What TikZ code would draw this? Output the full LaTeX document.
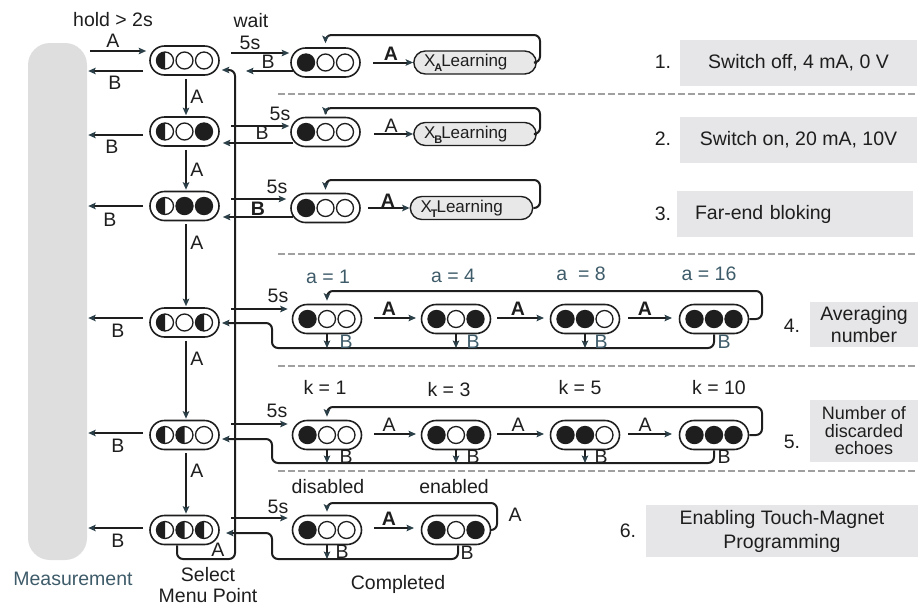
\documentclass[tikz,border=0pt]{standalone}
\usepackage{fontspec}
\setmainfont{Liberation Sans}
\usetikzlibrary{shapes.misc,arrows.meta}
\definecolor{bargray}{HTML}{DEDEDE}
\definecolor{boxgray}{HTML}{E6E6E8}
\definecolor{lgray}{HTML}{E8E8E8}
\definecolor{slate}{HTML}{3E5B69}
\definecolor{ink}{HTML}{1E1E1E}
\definecolor{dashgray}{HTML}{A0A0A0}
\definecolor{tipc}{HTML}{2B3F48}
\tikzset{
 lightnode/.style={rounded rectangle, draw=ink, line width=1.6pt, minimum width=69pt, minimum height=29pt, inner sep=0pt},
 learnbox/.style={rounded rectangle, draw=ink, line width=1.4pt, fill=lgray, minimum height=23pt, text width=102pt, inner xsep=7pt, inner ysep=0pt, align=left, font=\fontsize{17}{18}\selectfont, text=ink},
 infobox/.style={fill=boxgray},
 txt/.style={font=\fontsize{19.5}{22}\selectfont, text=ink, inner sep=0pt},
 btxt/.style={txt, font=\fontsize{19.5}{22}\selectfont\bfseries},
 stxt/.style={txt, text=slate},
 conn/.style={draw=ink, line width=2pt},
 arr/.style={conn, -{Stealth[length=7.5pt,width=6.5pt,inset=1.5pt,color=tipc]}},
 loopline/.style={arr, rounded corners=6pt},
 sepline/.style={draw=dashgray, line width=2.5pt, dash pattern=on 7pt off 3pt},
}
\newcommand\lampF[1]{\fill[ink] #1 circle[radius=9.2pt];}
\newcommand\lampE[1]{\draw[ink, line width=1.3pt, fill=white] #1 circle[radius=8.5pt];}
\newcommand\lampH[1]{\draw[ink, line width=1.3pt, fill=white] #1 circle[radius=8.5pt];\fill[ink] #1 ++(0pt,8.5pt) arc[start angle=90,end angle=270,radius=8.5pt] -- cycle;}
\newcommand\lamps[4]{\csname lamp#2\endcsname{([xshift=-19.5pt]#1.center)}\csname lamp#3\endcsname{(#1.center)}\csname lamp#4\endcsname{([xshift=19.5pt]#1.center)}}
\newcommand\subx[1]{\kern-1pt\smash{\raisebox{-5pt}{\fontsize{11}{11}\selectfont\bfseries #1}}\kern-1pt}
\begin{document}
\begin{tikzpicture}[x=1pt,y=-1pt]
\useasboundingbox (0,0) rectangle (918,606);

% separators
\draw[sepline] (278,94) -- (918,94);
\draw[sepline] (278,254) -- (918,254);
\draw[sepline] (278,366) -- (918,366);
\draw[sepline] (278,471) -- (918,471);

% measurement bar
\node[fill=bargray, rounded corners=22pt, minimum width=59pt, minimum height=517pt, inner sep=0pt] (M) at (57.5,301.5) {};
\node[stxt] (mlab) at (73,579) {Measurement};

% left column
\node[lightnode] (L1) at (184.5,60.5) {};
\node[lightnode] (L2) at (184.5,131.5) {};
\node[lightnode] (L3) at (184.5,206) {};
\node[lightnode] (L4) at (184.5,322.5) {};
\node[lightnode] (L5) at (184.5,435) {};
\node[lightnode] (L6) at (184.5,530) {};
\lamps{L1}{H}{E}{E}
\lamps{L2}{H}{E}{F}
\lamps{L3}{H}{F}{F}
\lamps{L4}{H}{E}{H}
\lamps{L5}{H}{H}{E}
\lamps{L6}{H}{H}{H}

% second column rows 1-3
\node[lightnode] (R1) at (325.5,62.5) {};
\node[lightnode] (R2) at (325.5,132) {};
\node[lightnode] (R3) at (325.5,208) {};
\lamps{R1}{F}{E}{E}
\lamps{R2}{F}{E}{E}
\lamps{R3}{F}{E}{E}
\node[learnbox] (X1) at (475,62.5) {X\subx{A}Learning};
\node[learnbox] (X2) at (475,134) {X\subx{B}Learning};
\node[learnbox] (X3) at (471.5,208) {X\subx{T}Learning};

% rows 4-6 nodes
\node[lightnode] (P1) at (327,319) {};
\node[lightnode] (P2) at (456,319) {};
\node[lightnode] (P3) at (585,319) {};
\node[lightnode] (P4) at (714,319) {};
\lamps{P1}{F}{E}{E}
\lamps{P2}{F}{E}{F}
\lamps{P3}{F}{F}{E}
\lamps{P4}{F}{F}{F}
\node[lightnode] (Q1) at (327,435) {};
\node[lightnode] (Q2) at (456,435) {};
\node[lightnode] (Q3) at (585,435) {};
\node[lightnode] (Q4) at (714,435) {};
\lamps{Q1}{F}{E}{E}
\lamps{Q2}{F}{E}{F}
\lamps{Q3}{F}{F}{E}
\lamps{Q4}{F}{F}{F}
\node[lightnode] (S1) at (327,530) {};
\node[lightnode] (S2) at (456,530) {};
\lamps{S1}{F}{E}{E}
\lamps{S2}{F}{E}{F}

% info boxes
\node[infobox, txt, minimum width=237pt, minimum height=46pt] (B1) at (798.5,63) {Switch off, 4 mA, 0 V};
\node[txt] (n1) at (663,62) {1.};
\node[infobox, txt, minimum width=237pt, minimum height=46pt] (B2) at (798.5,140) {Switch on, 20 mA, 10V};
\node[txt] (n2) at (663,139) {2.};
\node[infobox, txt, minimum height=46pt, text width=200pt, inner xsep=18pt, align=left] (B3) at (795,214) {Far-end bloking};
\node[txt] (n3) at (663,214) {3.};
\node[infobox, txt, minimum width=108pt, minimum height=45pt, align=center] (B4) at (864,324.5) {Averaging\\number};
\node[txt] (n4) at (792,326) {4.};
\node[infobox, txt, font=\fontsize{18}{17.5}\selectfont, minimum width=108pt, minimum height=62pt, align=center] (B5) at (864,431) {Number of\\discarded\\echoes};
\node[txt] (n5) at (792,442) {5.};
\node[infobox, txt, font=\fontsize{19.5}{24}\selectfont, minimum width=272pt, minimum height=52pt, align=center] (B6) at (782,531) {Enabling Touch-Magnet\\Programming};
\node[txt] (n6) at (628,531) {6.};

% ---- row 1
\node[txt] (hold) at (113,20) {hold > 2s};
\draw[arr, shorten <=3pt, shorten >=3pt] (M.east |- 0,51) -- (L1.west |- 0,51);
\node[txt] (a0) at (113,41) {A};
\draw[arr, shorten <=6pt, shorten >=1pt] (L1.west |- 0,71) -- (M.east |- 0,71);
\node[txt] (b0) at (115,83) {B};
\node[txt] (wait) at (251,21) {wait};
\node[txt] (s1) at (250,43) {5s};
\draw[arr, shorten >=1pt] (231,53) -- (R1.west |- 0,53);
\draw[arr] (293,71) -- (246,71);
\node[txt] (b1) at (268,62) {B};
\draw[arr, shorten <=-1pt] (374,62.5) -- (X1.west);
\node[btxt] (a1) at (391,54) {A};
\draw[loopline] (X1.east) -| (540,35) -| ([yshift=4pt]R1.north);

% ---- row 2
\draw[arr, shorten <=3pt, shorten >=1pt] ([xshift=1.5pt]L1.south) -- ([xshift=1.5pt]L2.north);
\node[txt] (va1) at (197,97) {A};
\draw[arr, shorten <=6pt, shorten >=1pt] (L2.west |- 0,135) -- (M.east |- 0,135);
\node[txt] (b2l) at (112,147) {B};
\node[txt] (s2) at (280,114) {5s};
\draw[arr, shorten >=1pt] (231,126) -- (R2.west |- 0,126);
\draw[arr, shorten >=3pt] (293,143) -- (L2.east |- 0,143);
\node[txt] (b2) at (262,133) {B};
\draw[arr] (374,134) -- (X2.west);
\node[txt] (a2) at (391,126) {A};
\draw[loopline] (X2.east) -| (540,108) -| ([yshift=2pt]R2.north);

% ---- row 3
\draw[arr, shorten <=3pt, shorten >=1pt] ([xshift=1.5pt]L2.south) -- ([xshift=1.5pt]L3.north);
\node[txt] (va2) at (197,170) {A};
\draw[arr, shorten <=6pt, shorten >=1pt] (L3.west |- 0,206) -- (M.east |- 0,206);
\node[txt] (b3l) at (110,220) {B};
\node[txt] (s3) at (277,187) {5s};
\draw[arr, shorten >=4pt] (231,199) -- (R3.west |- 0,199);
\draw[arr, shorten >=3pt] (293,217) -- (L3.east |- 0,217);
\node[btxt] (b3) at (258,209) {B};
\draw[arr] (368,208) -- (X3.west);
\node[btxt] (a3) at (388,201) {A};
\draw[loopline] (X3.east) -| (540,180) -| ([yshift=3pt]R3.north);

% ---- row 4
\draw[arr, shorten <=3pt, shorten >=1pt] ([xshift=1.5pt]L3.south) -- ([xshift=1.5pt]L4.north);
\node[txt] (va3) at (197,243) {A};
\draw[arr, shorten <=6pt, shorten >=1pt] (L4.west |- 0,318) -- (M.east |- 0,318);
\node[txt] (b4l) at (118,331) {B};
\node[txt] (s4) at (278,296) {5s};
\draw[arr, shorten >=4pt] (231,309) -- (P1.west |- 0,309);
\node[stxt] (al1) at (328,277) {a = 1};
\node[stxt] (al2) at (453,276) {a = 4};
\node[stxt] (al3) at (581,274) {a \ = 8};
\node[stxt] (al4) at (709,274) {a = 16};
\draw[arr] (374,318) -- (416,318);
\draw[arr] (497,318) -- (544,318);
\draw[arr] (628,318) -- (672,318);
\node[btxt] (a41) at (389,309) {A};
\node[btxt] (a42) at (518,309) {A};
\node[btxt] (a43) at (645,309) {A};
\draw[loopline] (P4.east) -| (762,291) -| ([yshift=3pt]P1.north);
\draw[loopline] (P4.south) |- (272,348) |- (222,323);
\draw[arr] (P1.south) -- (327,348);
\draw[arr] (P2.south) -- (456,348);
\draw[arr] (P3.south) -- (585,348);
\node[stxt] (b41) at (346,342) {B};
\node[stxt] (b42) at (473,342) {B};
\node[stxt] (b43) at (601,342) {B};
\node[stxt] (b44) at (724,342) {B};

% ---- row 5
\draw[arr, shorten <=3pt, shorten >=1pt] ([xshift=1.5pt]L4.south) -- ([xshift=1.5pt]L5.north);
\node[txt] (va4) at (197,359) {A};
\draw[arr, shorten <=6pt, shorten >=1pt] (L5.west |- 0,433) -- (M.east |- 0,433);
\node[txt] (b5l) at (118,446) {B};
\node[txt] (s5) at (277,411) {5s};
\draw[arr, shorten >=4pt] (231,424) -- (Q1.west |- 0,424);
\node[txt] (k1) at (325,387) {k = 1};
\node[txt] (k2) at (449,390) {k = 3};
\node[txt] (k3) at (580,388) {k = 5};
\node[txt] (k4) at (719,388) {k = 10};
\draw[arr] (374,434) -- (416,434);
\draw[arr] (497,434) -- (544,434);
\draw[arr] (628,434) -- (672,434);
\node[txt] (a51) at (389,425) {A};
\node[txt] (a52) at (518,425) {A};
\node[txt] (a53) at (645,425) {A};
\draw[loopline] (Q4.east) -| (762,407) -| ([yshift=3pt]Q1.north);
\draw[loopline] (Q4.south) |- (272,463) |- (222,439);
\draw[arr] (Q1.south) -- (327,463);
\draw[arr] (Q2.south) -- (456,463);
\draw[arr] (Q3.south) -- (585,463);
\node[txt] (b51) at (346,457) {B};
\node[txt] (b52) at (473,457) {B};
\node[txt] (b53) at (601,457) {B};
\node[txt] (b54) at (724,457) {B};

% ---- row 6
\draw[arr, shorten <=3pt, shorten >=1pt] ([xshift=1.5pt]L5.south) -- ([xshift=1.5pt]L6.north);
\node[txt] (va5) at (197,471) {A};
\draw[arr, shorten <=6pt, shorten >=1pt] (L6.west |- 0,528) -- (M.east |- 0,528);
\node[txt] (b6l) at (118,541) {B};
\node[txt] (s6) at (278,507) {5s};
\draw[arr, shorten >=4pt] (231,518) -- (S1.west |- 0,518);
\node[txt] (dis) at (328,487) {disabled};
\node[txt] (ena) at (454,487) {enabled};
\draw[arr] (374,528) -- (414,528);
\node[btxt] (a61) at (389,519) {A};
\draw[loopline] (S2.east) -| (497,503) -| ([yshift=3pt]S1.north);
\node[txt] (a62) at (515,515) {A};
\draw[loopline] ([xshift=2pt]S2.south) |- (272,559) |- (226,533);
\draw[arr] (S1.south) -- (327,559);
\node[txt] (b61) at (342,552) {B};
\node[txt] (b62) at (467,553) {B};
\node[txt] (comp) at (398,584) {Completed};

% back to top
\draw[loopline] ([xshift=-7.5pt]L6.south) |- (235,559) |- ([xshift=2pt]L1.east |- 0,70);
\node[txt] (a7) at (218,550) {A};
\node[txt, font=\fontsize{19.5}{21.5}\selectfont, align=center] (sel) at (208,585) {Select\\Menu Point};
\end{tikzpicture}
\end{document}
